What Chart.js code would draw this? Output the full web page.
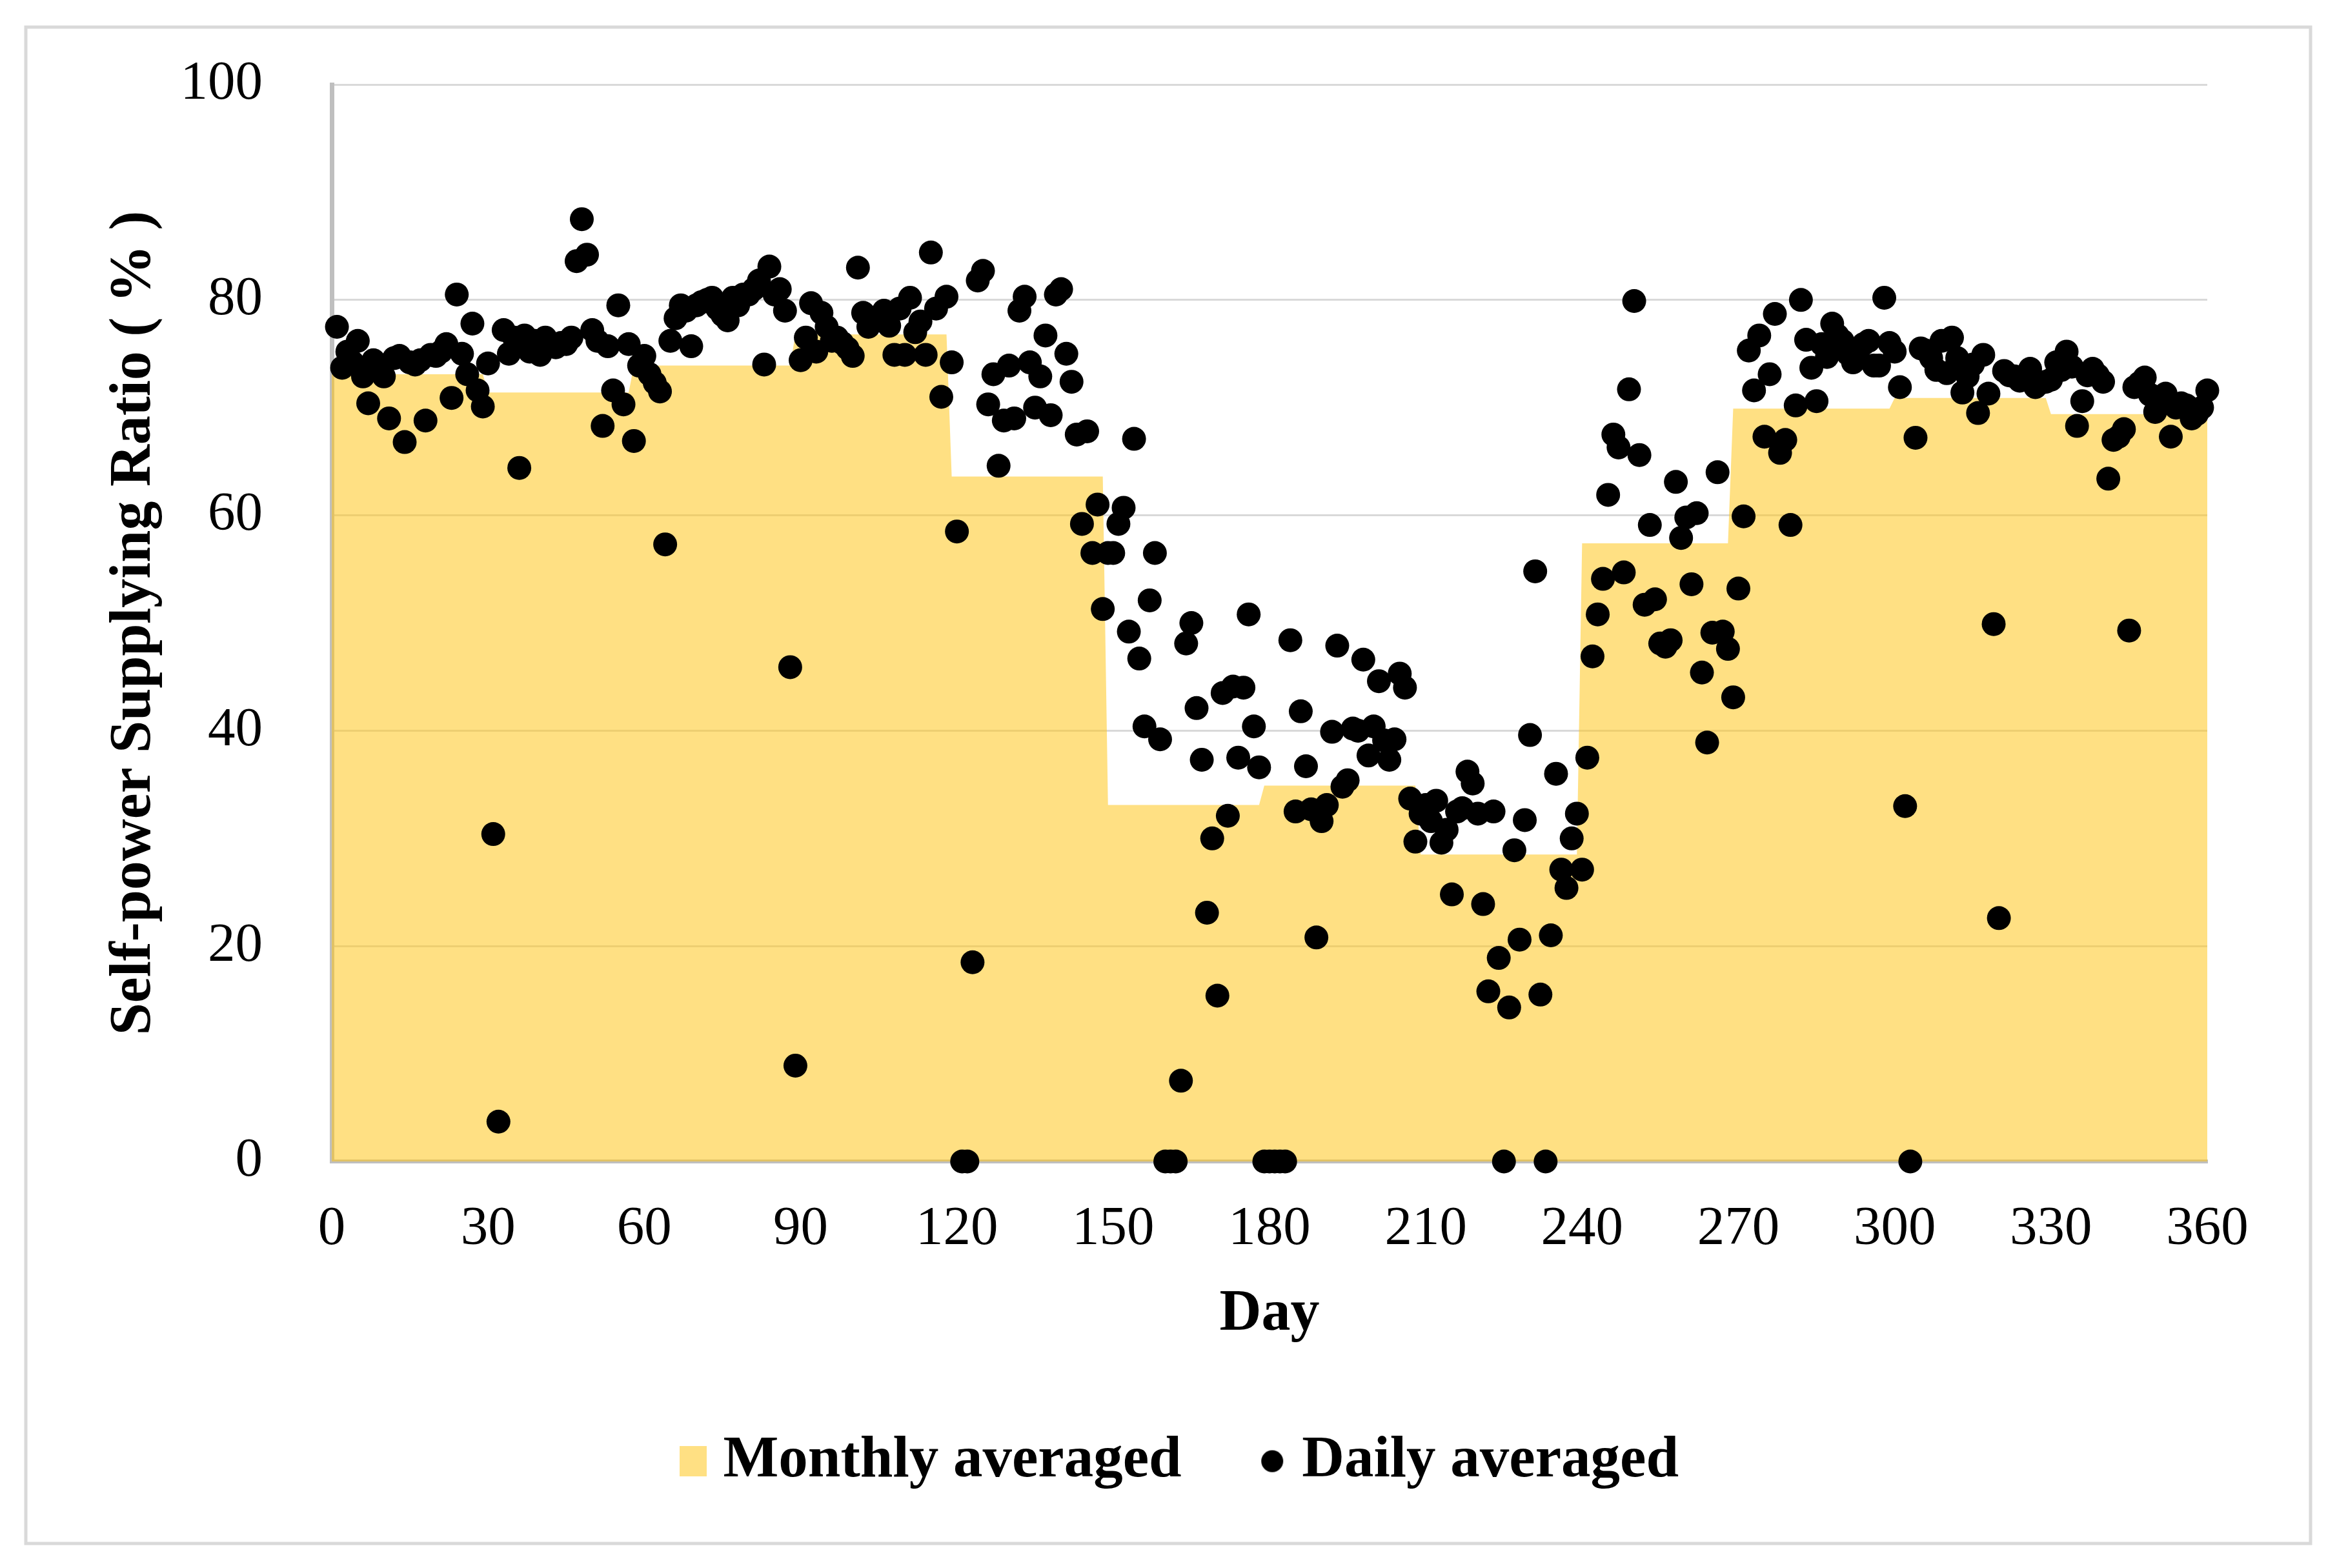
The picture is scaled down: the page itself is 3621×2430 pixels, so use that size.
<!DOCTYPE html>
<html>
<head>
<meta charset="utf-8">
<title>Self-power Supplying Ratio</title>
<script src="https://cdn.jsdelivr.net/npm/chart.js@4.4.1/dist/chart.umd.min.js"></script>
<style>
  html, body { margin: 0; padding: 0; background: #fff; }
  #wrap { width: 3621px; height: 2430px; position: relative; }
</style>
</head>
<body>
<div id="wrap"><canvas id="chart"></canvas></div>
<script>
// monthly averaged ratio (%), drawn as a flat step per month
const monthStart = [0, 30, 58, 89, 119, 149, 179, 209, 240, 269, 300, 330];
const monthEnd = [29, 57, 88, 118, 148, 178, 208, 239, 268, 299, 329, 360];
const monthlyRatio = [73.1, 71.4, 73.9, 76.8, 63.6, 33.1, 34.9, 28.5, 57.4, 69.9, 70.9, 69.4];

// daily averaged ratio (%), one value per day starting at day 1
const firstDay = 1;
const dailyRatio = [
  77.5, 73.7, 75.2, 74.2, 76.2, 72.9, 70.4, 74.4, 74.0, 72.9,
  69.0, 74.6, 74.8, 66.8, 74.2, 74.0, 74.4, 68.8, 74.9, 74.8,
  75.2, 75.9, 70.9, 80.5, 75.0, 73.1, 77.8, 71.6, 70.1, 74.1,
  30.4, 3.7, 77.2, 75.0, 76.5, 64.4, 76.7, 75.2, 76.2, 74.9,
  76.5, 75.9, 75.6, 76.0, 75.9, 76.5, 83.6, 87.5, 84.2, 77.2,
  76.2, 68.3, 75.7, 71.6, 79.5, 70.3, 75.9, 66.9, 73.9, 74.8,
  73.1, 72.3, 71.5, 57.3, 76.2, 78.3, 79.5, 79.0, 75.7, 79.5,
  79.8, 80.0, 80.2, 79.2, 78.6, 78.1, 80.2, 79.5, 80.5, 80.5,
  81.0, 81.8, 74.0, 83.1, 80.5, 81.0, 79.0, 45.9, 8.9, 74.4,
  76.5, 79.7, 75.2, 78.8, 77.5, 76.2, 76.5, 76.0, 75.5, 74.8,
  83.0, 78.8, 77.5, 78.0, 78.5, 79.0, 77.6, 74.9, 79.2, 74.9,
  80.2, 77.0, 78.0, 74.9, 84.4, 79.2, 71.0, 80.3, 74.2, 58.5,
  0, 0, 18.5, 81.8, 82.7, 70.3, 73.1, 64.6, 68.8, 73.9,
  69.0, 79.0, 80.3, 74.2, 70.0, 72.9, 76.7, 69.3, 80.5, 81.0,
  75.0, 72.4, 67.5, 59.2, 67.8, 56.5, 61.0, 51.3, 56.5, 56.5,
  59.2, 60.7, 49.2, 67.1, 46.7, 40.4, 52.1, 56.5, 39.2, 0,
  0, 0, 7.5, 48.1, 50.0, 42.1, 37.3, 23.1, 30.0, 15.4,
  43.5, 32.1, 44.1, 37.5, 44.0, 50.8, 40.4, 36.6, 0, 0,
  0, 0, 0, 48.4, 32.5, 41.8, 36.7, 32.7, 20.8, 31.6,
  33.1, 39.9, 47.9, 34.8, 35.4, 40.2, 40.0, 46.6, 37.7, 40.4,
  44.6, 39.1, 37.3, 39.2, 45.3, 44.0, 33.7, 29.7, 32.3, 33.1,
  31.6, 33.5, 29.6, 30.8, 24.8, 32.5, 32.8, 36.2, 35.1, 32.3,
  23.9, 15.8, 32.5, 18.9, 0, 14.3, 28.9, 20.6, 31.7, 39.6,
  54.8, 15.5, 0, 21.0, 36.0, 27.1, 25.4, 30.0, 32.3, 27.1,
  37.5, 46.9, 50.8, 54.1, 61.9, 67.5, 66.3, 54.7, 71.7, 79.9,
  65.6, 51.7, 59.1, 52.2, 48.1, 47.8, 48.4, 63.1, 57.9, 59.8,
  53.6, 60.2, 45.4, 38.9, 49.1, 64.0, 49.2, 47.6, 43.1, 53.2,
  59.9, 75.3, 71.6, 76.7, 67.3, 73.1, 78.7, 65.8, 67.0, 59.1,
  70.2, 80.0, 76.3, 73.7, 70.6, 75.9, 74.7, 77.8, 76.7, 76.2,
  75.0, 74.2, 74.6, 75.9, 76.2, 73.9, 73.9, 80.2, 76.0, 75.2,
  71.9, 33.0, 0, 67.2, 75.5, 75.3, 74.6, 73.5, 76.2, 73.2,
  76.5, 74.6, 71.4, 72.9, 74.0, 69.5, 74.9, 71.3, 49.9, 22.6,
  73.4, 73.0, 72.9, 72.5, 73.0, 73.6, 71.9, 72.3, 72.4, 72.6,
  74.2, 73.5, 75.2, 73.8, 68.3, 70.6, 73.0, 73.6, 73.0, 72.4,
  63.4, 67.0, 67.3, 68.0, 49.3, 71.9, 72.3, 72.8, 71.2, 69.6,
  70.5, 71.3, 67.3, 70.0, 70.4, 70.2, 69.0, 69.4, 70.0, 71.6
];

const dayTicks = [0, 30, 60, 90, 120, 150, 180, 210, 240, 270, 300, 330, 360];
const ratioTicks = [0, 20, 40, 60, 80, 100];

// build the point lists the chart needs
const monthlyPoints = [];
monthlyRatio.forEach((v, i) => {
  monthlyPoints.push({ x: monthStart[i], y: v });
  monthlyPoints.push({ x: monthEnd[i], y: v });
});
const dailyPoints = dailyRatio.map((v, i) => ({ x: firstDay + i, y: v }));

// little pictures for the legend
function makeSwatch(w, h, draw) {
  const c = document.createElement('canvas');
  c.width = w;
  c.height = h;
  draw(c.getContext('2d'));
  return c;
}
const rectSwatch = makeSwatch(42, 47, (ctx) => {
  ctx.fillStyle = '#ffe083';
  ctx.fillRect(0, 0, 42, 47);
});
const dotSwatch = makeSwatch(36, 36, (ctx) => {
  ctx.fillStyle = '#000';
  ctx.beginPath();
  ctx.arc(18, 18, 17, 0, Math.PI * 2);
  ctx.fill();
});

// white background and the light grey frame round the whole chart
const frame = {
  id: 'frame',
  beforeDraw(chart) {
    const ctx = chart.ctx;
    ctx.save();
    ctx.fillStyle = '#fff';
    ctx.fillRect(0, 0, chart.width, chart.height);
    ctx.strokeStyle = '#d9d9d9';
    ctx.lineWidth = 5;
    ctx.strokeRect(40, 42, 3540, 2350);
    ctx.restore();
  }
};

const serif = 'Liberation Serif';

new Chart(document.getElementById('chart'), {
  type: 'line',
  data: {
    datasets: [
      {
        label: 'Monthly averaged',
        data: monthlyPoints,
        fill: 'origin',
        backgroundColor: 'rgba(255, 196, 21, 0.53)',
        borderColor: 'transparent',
        borderWidth: 0,
        pointRadius: 0,
        tension: 0,
        order: 2
      },
      {
        label: 'Daily averaged',
        type: 'scatter',
        data: dailyPoints,
        backgroundColor: '#000',
        borderWidth: 0,
        pointRadius: 18.5,
        clip: false,
        order: 1
      }
    ]
  },
  options: {
    responsive: true,
    maintainAspectRatio: false,
    animation: false,
    layout: { padding: { left: 54, right: 0, top: 131, bottom: 110 } },
    scales: {
      x: {
        type: 'linear',
        min: 0,
        max: 360,
        afterBuildTicks: (ax) => { ax.ticks = dayTicks.map((v) => ({ value: v })); },
        afterFit: (ax) => { ax.height = 279; },
        grid: { display: false, drawTicks: false },
        border: { color: '#bfbfbf', width: 6 },
        ticks: {
          padding: 55,
          maxRotation: 0,
          autoSkip: false,
          color: '#000',
          font: { family: serif, size: 85 }
        },
        title: {
          display: true,
          text: 'Day',
          color: '#000',
          font: { family: serif, size: 90, weight: 'bold', lineHeight: 0.5 },
          padding: { top: 0, bottom: 19 }
        }
      },
      y: {
        min: 0,
        max: 100,
        afterBuildTicks: (ax) => { ax.ticks = ratioTicks.map((v) => ({ value: v })); },
        afterFit: (ax) => { ax.width = 460; },
        grid: { color: '#d9d9d9', lineWidth: 3, drawTicks: false },
        border: { color: '#bfbfbf', width: 7 },
        ticks: {
          padding: 107,
          color: '#000',
          font: { family: serif, size: 85, lineHeight: 0.5 }
        },
        title: {
          display: true,
          text: 'Self-power Supplying Ratio ( % )',
          color: '#000',
          font: { family: serif, size: 90, weight: 'bold' },
          padding: { top: 101, bottom: 0 }
        }
      },
      // empty axis on the right, only to leave the margin there
      yRight: {
        position: 'right',
        afterFit: (ax) => { ax.width = 201; },
        grid: { display: false, drawTicks: false },
        border: { display: false },
        ticks: { display: false }
      }
    },
    plugins: {
      tooltip: { enabled: false },
      legend: {
        position: 'bottom',
        labels: {
          usePointStyle: true,
          pointStyleWidth: 1,
          padding: 140,
          color: '#000',
          font: { family: serif, size: 91, weight: 'bold' },
          generateLabels: () => [
            { text: 'Monthly averaged', pointStyle: rectSwatch, fillStyle: '#ffe083', strokeStyle: 'transparent', lineWidth: 0, hidden: false, datasetIndex: 0 },
            { text: 'Daily averaged', pointStyle: dotSwatch, fillStyle: '#000', strokeStyle: 'transparent', lineWidth: 0, hidden: false, datasetIndex: 1 }
          ]
        }
      }
    }
  },
  plugins: [frame]
});
</script>
</body>
</html>
